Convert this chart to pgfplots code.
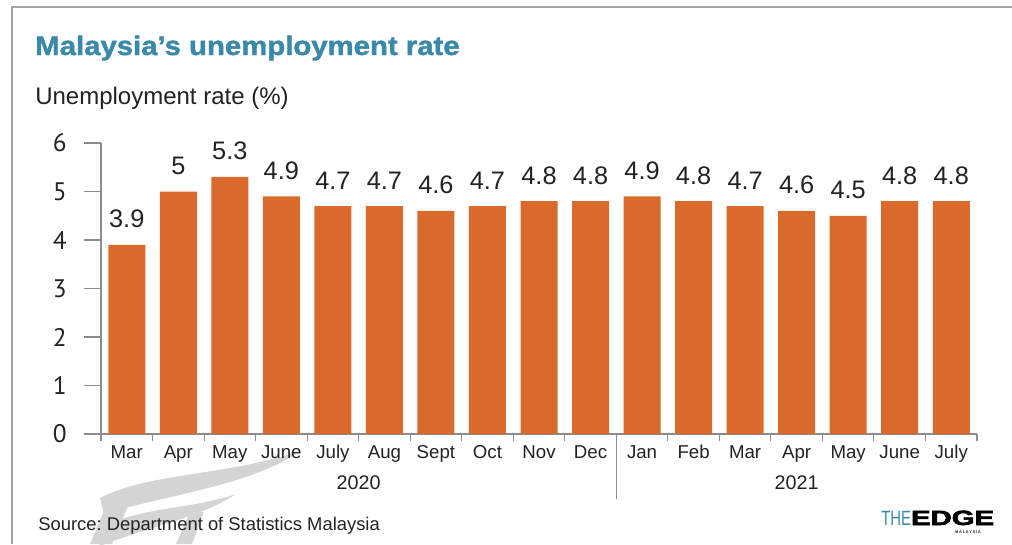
\documentclass[border=0pt]{standalone}
\usepackage{pgfplots}
\pgfplotsset{compat=1.18}
\usepackage{graphicx}
\usepackage{fontspec}
\setmainfont{Liberation Sans}
\newfontfamily\titlefont[FakeStretch=1.1,FakeBold=1.5]{Liberation Sans Bold}
\newfontfamily\logofont[FakeBold=2.5]{Liberation Sans Bold}
\newfontfamily\tickfont{PT Sans}
\definecolor{barorange}{HTML}{DA6A2C}
\definecolor{titleteal}{HTML}{3A89A8}
\definecolor{txt}{HTML}{222222}
\definecolor{axgray}{HTML}{8C8C8C}
\frenchspacing
\begin{document}
\begin{tikzpicture}
\path[use as bounding box] (0,0) rectangle (759pt,-408pt);
\begin{scope}[x=0.75pt, y=-0.75pt]
% frame
\draw[axgray!80, line width=1.2pt] (12,544) -- (12,7) -- (1012,7);
% watermark swoosh
\fill[black!17] (100,498) .. controls (150,472) and (230,476) .. (302,450)
  .. controls (250,486) and (170,494) .. (104,514) -- cycle;
\fill[black!17] (96,530) .. controls (140,506) and (190,510) .. (236,494)
  .. controls (200,518) and (150,526) .. (100,546) -- cycle;
\fill[black!17] (90,544) -- (106,506) -- (128,506) -- (112,544) -- cycle;
\fill[black!17] (176,544) -- (190,512) -- (204,512) -- (192,544) -- cycle;
% titles
\node[anchor=base west, inner sep=0pt, text=titleteal, font=\titlefont\fontsize{20}{22}\selectfont] at (35,55) {Malaysia’s unemployment rate};
\node[anchor=base west, inner sep=0pt, text=txt, font=\fontsize{18}{21}\selectfont] at (35,104) {Unemployment rate (\%)};
\node[anchor=base west, inner sep=0pt, text=txt, font=\fontsize{13.8}{16}\selectfont] at (38,530) {Source: Department of Statistics Malaysia};
% logo
\node[anchor=base west, inner sep=0pt] at (881,525) {\fontsize{15.5}{16}\selectfont\textcolor{titleteal}{\scalebox{0.72}[1]{THE}}\textcolor{black}{\logofont\scalebox{1.42}[1]{EDGE}}};
\node[anchor=base, inner sep=0pt, text=txt, font=\fontsize{3}{4}\selectfont\bfseries] at (968,533) {M\,A\,L\,A\,Y\,S\,I\,A};
\end{scope}
\begin{axis}[
  at={(75.75pt,-325.5pt)}, anchor=south west,
  scale only axis, width=657pt, height=218.25pt,
  xmin=-0.5, xmax=16.5, ymin=0, ymax=6,
  axis lines=left, axis line style={-, axgray, line width=0.8pt},
  ybar, bar width=27.75pt,
  bar shift=0pt,
  clip=false,
  tick align=outside,
  major tick length=12.75pt,
  ytick={0,1,2,3,4,5,6},
  y tick style={axgray, line width=0.8pt},
  yticklabel style={anchor=east, inner sep=0pt, xshift=-12.75pt, text=txt, font=\tickfont\fontsize{19}{21}\selectfont},
  /pgf/number format/assume math mode=true,
  xtick={0,...,16},
  xticklabels={Mar,Apr,May,June,July,Aug,Sept,Oct,Nov,Dec,Jan,Feb,Mar,Apr,May,June,July},
  x tick style={draw=none},
  xticklabel style={anchor=base, inner sep=0pt, yshift=-5.25pt, text=txt, font=\fontsize{14}{16}\selectfont},
  extra x ticks={-0.5,0.5,1.5,2.5,3.5,4.5,5.5,6.5,7.5,8.5,9.5,10.5,11.5,12.5,13.5,14.5,15.5,16.5},
  extra x tick labels={},
  extra x tick style={major tick length=5pt, x tick style={draw=axgray, line width=0.8pt}},
  nodes near coords,
  nodes near coords style={anchor=base, inner sep=0pt, yshift=12.75pt, text=txt, font=\fontsize{19}{21}\selectfont},
  point meta=explicit symbolic,
]
\addplot[fill=barorange, draw=none] coordinates {
  (0,3.9) [3.9] (1,5) [5] (2,5.3) [5.3] (3,4.9) [4.9] (4,4.7) [4.7] (5,4.7) [4.7]
  (6,4.6) [4.6] (7,4.7) [4.7] (8,4.8) [4.8] (9,4.8) [4.8] (10,4.9) [4.9] (11,4.8) [4.8]
  (12,4.7) [4.7] (13,4.6) [4.6] (14,4.5) [4.5] (15,4.8) [4.8] (16,4.8) [4.8]
};
\draw[axgray, line width=0.8pt] (axis cs:9.5,0) -- ++(0pt,-48.75pt);
\node[anchor=base, inner sep=0pt, text=txt, font=\fontsize{14.8}{17}\selectfont] at ([yshift=-41.25pt]axis cs:4.5,0) {2020};
\node[anchor=base, inner sep=0pt, text=txt, font=\fontsize{14.8}{17}\selectfont] at ([yshift=-41.25pt]axis cs:13,0) {2021};
\end{axis}
\end{tikzpicture}
\end{document}
